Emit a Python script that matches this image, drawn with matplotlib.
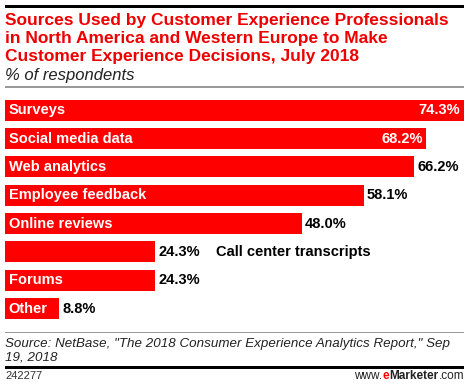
import matplotlib.pyplot as plt
from matplotlib.patches import Rectangle

categories = ["Surveys", "Social media data", "Web analytics", "Employee feedback",
              "Online reviews", "Call center transcripts", "Forums", "Other"]
values = [74.3, 68.2, 66.2, 58.1, 48.0, 24.3, 24.3, 8.8]

W, H = 470, 389
RED = "#ff0000"
TITLE_RED = "#ee0000"

plt.rcParams['font.family'] = ['Liberation Sans', 'DejaVu Sans']

fig = plt.figure(figsize=(W / 100, H / 100), dpi=100)


def fy(y):
    return 1 - y / H


def fx(x):
    return x / W


def hline(y0, y1, color, x0=5, x1=464):
    # filled strip between pixel rows y0 and y1
    fig.add_artist(Rectangle((fx(x0), fy(y1)), fx(x1) - fx(x0), (y1 - y0) / H,
                             facecolor=color, edgecolor="none",
                             transform=fig.transFigure, zorder=10))


# header
hline(5, 8, "black")
title_lines = ["Sources Used by Customer Experience Professionals",
               "in North America and Western Europe to Make",
               "Customer Experience Decisions, July 2018"]
for line, base in zip(title_lines, [25.5, 43, 60.5]):
    fig.text(fx(5), fy(base), line, color=TITLE_RED, fontsize=12.5,
             fontweight="bold", va="baseline", ha="left")
fig.text(fx(5), fy(80), "% of respondents", fontsize=12, style="italic",
         va="baseline", ha="left", color="#222222")
hline(86.5, 87.5, "#999999")

# bars
top_px, bot_px = 96.1, 322.8
ax = fig.add_axes([fx(5), fy(bot_px), fx(464) - fx(5), (bot_px - top_px) / H])
pos = list(range(len(categories)))
ax.barh(pos, values, height=0.74, color=RED)
ax.set_xlim(0, values[0])
ax.set_ylim(len(categories) - 0.5, -0.5)
ax.axis("off")

for i, (cat, v) in enumerate(zip(categories, values)):
    if i < 2:
        ax.text(v - 0.6, i, f"{v:.1f}%", color="white", fontsize=10.5,
                va="center", ha="right", fontweight="bold")
    else:
        ax.text(v + 0.5, i, f"{v:.1f}%", color="black", fontsize=10.5,
                va="center", ha="left", fontweight="bold")
    if cat == "Call center transcripts":
        ax.text(34.2, i, cat, color="black", fontsize=10.5, va="center",
                ha="left", fontweight="bold")
    else:
        ax.text(0.6, i, cat, color="white", fontsize=10.5, va="center",
                ha="left", fontweight="bold")

# footer
hline(331.5, 332.5, "#999999")
source_lines = ["Source: NetBase, \"The 2018 Consumer Experience Analytics Report,\" Sep",
                "19, 2018"]
for line, base in zip(source_lines, [347.5, 360.5]):
    fig.text(fx(5), fy(base), line, fontsize=9.6, style="italic", va="baseline",
             ha="left", color="#222222")
hline(365.5, 368.5, "black")
fig.text(fx(5), fy(379), "242277", fontsize=8, va="baseline", ha="left", color="#333333")

# www.eMarketer.com, right-aligned, built from right to left
r = fig.canvas.get_renderer()
x_right = fx(464)
for txt, col, wt in [(".com", "#222222", "normal"), ("Marketer", "#222222", "bold"),
                     ("e", RED, "bold"), ("www.", "#222222", "normal")]:
    t = fig.text(x_right, fy(379), txt, fontsize=8.5, va="baseline", ha="right",
                 color=col, fontweight=wt)
    x_right = t.get_window_extent(r).x0 / W

fig.savefig("out.png", dpi=100)
